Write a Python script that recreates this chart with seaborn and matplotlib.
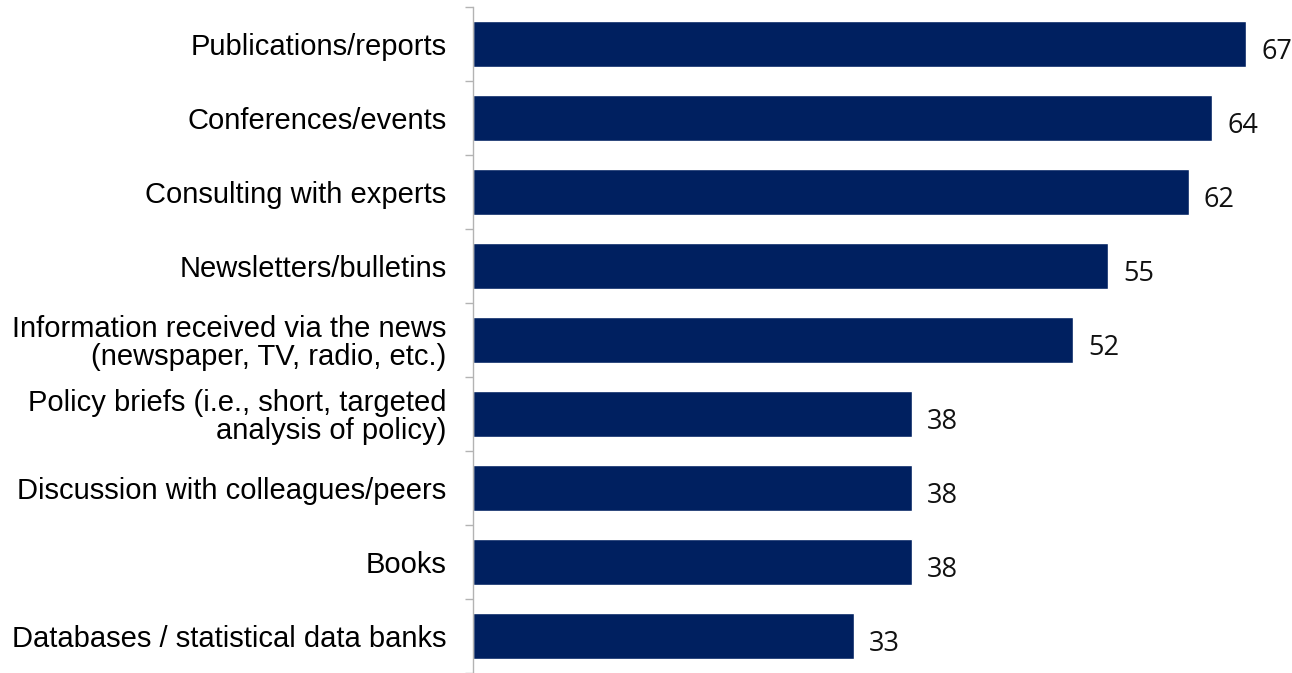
import matplotlib
matplotlib.use("Agg")
import matplotlib.pyplot as plt
import seaborn as sns
import pandas as pd
import numpy as np

categories = [
    "Publications/reports",
    "Conferences/events",
    "Consulting with experts",
    "Newsletters/bulletins",
    "Information received via the news\n(newspaper, TV, radio, etc.)",
    "Policy briefs (i.e., short, targeted\nanalysis of policy)",
    "Discussion with colleagues/peers",
    "Books",
    "Databases / statistical data banks",
]
values = [67, 64, 62, 55, 52, 38, 38, 38, 33]

bar_color = "#002060"
axis_gray = "#b3b3b3"

df = pd.DataFrame({"source": categories, "pct": values})

sns.set_style("white")
plt.rcParams["font.family"] = ["Liberation Sans", "DejaVu Sans"]

fig = plt.figure(figsize=(12.92, 6.73), dpi=100)
ax = fig.add_axes([473 / 1292, 0.0, 808 / 1292, 1 - 7 / 673])

sns.barplot(data=df, x="pct", y="source", orient="h", color=bar_color,
            width=0.62, saturation=1, ax=ax)

ax.set_xlim(0, 70)
ax.set_ylim(len(categories) - 0.5, -0.5)

for i, v in enumerate(values):
    ax.annotate(f"{v}", xy=(v, i), xytext=(11, -5.5), textcoords="offset points",
                va="center", ha="left", fontsize=19.5, family="Open Sans",
                color="#111111")

for s in ["top", "right", "bottom"]:
    ax.spines[s].set_visible(False)
ax.spines["left"].set_color(axis_gray)
ax.spines["left"].set_linewidth(1.0)

ax.set_xticks([])
ax.set_xlabel("")
ax.set_ylabel("")
ax.tick_params(axis="y", which="major", left=False, length=0, pad=19,
               labelsize=21, labelcolor="#000000")
ax.set_yticks(np.arange(-0.5, len(categories), 1), minor=True)
ax.tick_params(axis="y", which="minor", left=True, length=6, width=1.0,
               color=axis_gray, direction="out")
for lbl in ax.get_yticklabels():
    lbl.set_multialignment("right")
    lbl.set_linespacing(1.0)

fig.savefig("out.png", dpi=100)
